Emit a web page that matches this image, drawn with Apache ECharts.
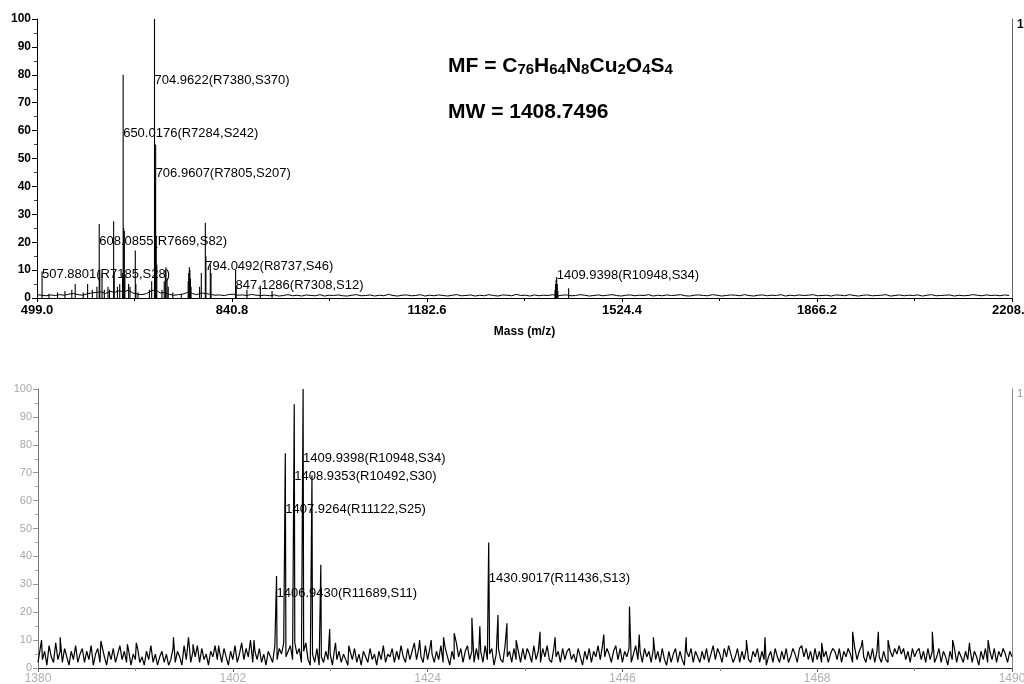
<!DOCTYPE html>
<html>
<head>
<meta charset="utf-8">
<script src="https://cdn.jsdelivr.net/npm/echarts@6/dist/echarts.min.js"></script>
<style>
  html, body { margin: 0; padding: 0; background: #fff; }
  #chart { width: 1024px; height: 684px; }
</style>
</head>
<body>
<div id="chart"></div>
<script>
// ---------- Full-range spectrum (m/z 499.0 - 2208.0) ----------
const topMzMin = 499.0;
const topMzMax = 2208.0;
const topTickStep = 341.8;
const topTickLabels = ['499.0', '840.8', '1182.6', '1524.4', '1866.2', '2208.0'];
const topYTicks = [0, 10, 20, 30, 40, 50, 60, 70, 80, 90, 100];

// baseline trace, one reading every 8 m/z starting at 499
const topNoiseStep = 8;
const topNoise = [
  1.2, 1.0, 0.8, 1.1, 0.9, 1.2, 1.0, 1.4, 1.6, 1.2, 1.0, 1.5, 1.8, 2.0, 2.2, 1.6, 2.4, 2.0, 2.6, 2.2,
  2.8, 1.8, 1.4, 1.2, 1.6, 2.5, 3.0, 1.8, 2.0, 1.3, 1.0, 1.2, 1.4, 2.0, 1.6, 1.2, 1.8, 1.6, 1.3, 1.0,
  1.1, 0.9, 1.2, 1.4, 1.0, 1.1, 0.9, 1.3, 1.0, 0.9,
  1.0, 0.8, 1.1, 0.7, 0.9, 1.2, 0.8, 1.0, 0.7, 1.1, 0.9, 0.8, 1.2, 0.7, 1.0, 0.9, 1.1, 0.8, 0.7, 1.0,
  1.2, 0.8, 0.9, 1.1, 0.7, 1.0, 0.8, 1.3, 0.9, 0.7, 1.0, 1.1, 0.8, 0.9, 1.2, 0.7, 1.0, 0.8, 1.1, 0.9,
  0.7, 1.0, 1.2, 0.8, 0.9, 1.1, 0.7, 1.0, 0.8, 1.2, 0.9, 0.7, 1.1, 1.0, 0.8, 1.3, 0.9, 1.0, 0.7, 1.1,
  0.8, 1.0, 0.9, 1.2, 0.7, 1.0, 1.1, 0.8, 0.9, 1.2, 1.0, 0.7, 0.9, 1.1, 0.8, 1.0, 1.2, 0.9, 0.7, 1.0,
  1.1, 0.8, 1.0, 0.9, 1.2, 0.7, 1.0, 0.8, 1.1, 0.9, 1.0, 1.2, 0.8, 0.7, 1.0, 1.1, 0.9, 0.8, 1.2, 1.0,
  0.7, 0.9, 1.1, 1.0, 0.8, 1.2, 0.9, 0.7, 1.0, 1.1, 0.8, 1.0, 0.9, 1.2, 0.7, 1.0, 0.8, 1.1, 0.9, 1.0,
  1.2, 0.8, 0.9, 1.0, 0.7, 1.1, 1.0, 0.8, 1.2, 0.9, 0.7, 1.0, 1.1, 0.8, 0.9, 1.0, 1.2, 0.7, 0.9, 1.1,
  0.8, 1.0, 0.9, 1.1, 0.7, 1.0, 1.2, 0.8, 0.9, 1.0, 1.1, 0.7, 1.0, 0.8, 0.9, 1.2, 1.0, 0.8, 1.1, 0.9,
  1.0, 0.8, 1.1, 0.9
];

// peak sticks: m/z and relative intensity (%)
const topPeakMz = [
  507.88, 520.0, 535.0, 548.0, 560.0, 566.0, 580.0, 587.7, 596.0, 604.0,
  608.09, 609.09, 613.0, 617.0, 623.4, 626.0, 633.3, 634.3, 640.0, 644.0,
  649.0, 650.02, 651.02, 652.02, 653.02, 659.6, 662.0, 671.3, 672.3, 676.0,
  696.0, 700.0, 704.96, 705.96, 706.96, 707.96, 708.96, 718.0, 722.0, 724.0,
  725.0, 727.0, 729.0, 737.0, 752.0, 764.0, 765.0, 766.0, 767.0, 768.0,
  769.0, 784.0, 787.0, 794.05, 795.05, 802.8, 804.0, 847.13, 848.13, 867.0,
  890.4, 911.0, 1406.94, 1407.93, 1408.94, 1409.94, 1410.94, 1411.94, 1430.90
];
const topPeakInt = [
  9.5, 1.5, 2.0, 2.5, 3.0, 5.0, 2.0, 5.0, 3.0, 4.0,
  26.5, 10.0, 9.0, 3.0, 4.0, 3.0, 27.5, 9.0, 4.0, 5.0,
  9.0, 80.0, 25.0, 24.0, 8.0, 5.0, 4.0, 17.0, 5.0, 2.0,
  3.0, 6.0, 100.0, 45.0, 55.0, 22.0, 12.0, 3.0, 6.0, 10.0,
  11.0, 7.0, 4.0, 2.0, 1.5, 6.0, 9.0, 11.0, 10.0, 7.0,
  4.0, 4.0, 9.0, 27.0, 15.0, 12.0, 9.0, 10.0, 4.0, 3.0,
  4.5, 2.5, 3.0, 5.0, 6.5, 7.5, 5.0, 2.5, 3.5
];

// peak annotations: m/z, text, level (%) at which the text sits
const topLabelMz = [704.9622, 650.0176, 706.9607, 608.0855, 507.8801, 794.0492, 847.1286, 1409.9398];
const topLabelText = [
  '704.9622(R7380,S370)', '650.0176(R7284,S242)', '706.9607(R7805,S207)', '608.0855(R7669,S82)',
  '507.8801(R7185,S28)', '794.0492(R8737,S46)', '847.1286(R7308,S12)', '1409.9398(R10948,S34)'
];
const topLabelLevel = [78, 59, 44.6, 20.3, 8.5, 11.4, 4.6, 8.1];

// ---------- Expanded view (m/z 1380 - 1490) ----------
const botMzMin = 1380;
const botMzMax = 1490;
const botTickStep = 22;
const botTickLabels = ['1380', '1402', '1424', '1446', '1468', '1490'];

// baseline trace, one reading every 0.25 m/z starting at 1380
const botNoiseStep = 0.25;
const botNoise = [
  2, 7, 3, 6, 1, 8, 4, 2, 9, 3, 6, 2, 7, 4, 1, 6, 3, 8, 2, 5,
  7, 2, 6, 3, 8, 1, 5, 7, 2, 10, 4, 1, 6, 3, 7, 2, 5, 8, 3, 6,
  2, 6, 1, 5, 3, 7, 2, 4, 1, 6, 3, 8, 2, 5, 1, 4, 6, 2, 5, 1,
  3, 7, 2, 6, 4, 1, 8, 3, 11, 2, 6, 4, 8, 2, 7, 3, 5, 1, 6, 4,
  8, 3, 6, 2, 7, 4, 1, 6, 3, 8, 2, 5, 9, 3, 7, 4, 10, 2, 6, 3,
  7, 2, 5, 1, 6, 4, 2, 8, 3, 7, 5, 9, 4, 6, 8, 3, 9, 5, 7, 2,
  6, 9, 3, 1, 5, 2, 7, 1, 4, 2, 6, 3, 5, 1, 7, 3, 6, 2, 5, 3,
  1, 6, 3, 7, 2, 5, 1, 6, 4, 2, 7, 3, 5, 1, 6, 3, 8, 2, 5, 4,
  7, 2, 6, 3, 8, 4, 2, 7, 3, 6, 9, 3, 7, 4, 2, 8, 3, 7, 5, 2,
  6, 3, 8, 2, 7, 4, 1, 6, 3, 9, 4, 7, 2, 6, 8, 3, 6, 2, 7, 3,
  6, 2, 8, 3, 5, 7, 1, 5, 7, 3, 2, 8, 4, 6, 2, 7, 3, 6, 2, 7,
  3, 7, 5, 2, 8, 3, 6, 2, 7, 4, 8, 3, 2, 7, 4, 6, 2, 7, 3, 6,
  7, 3, 5, 2, 7, 4, 1, 6, 3, 7, 2, 6, 4, 8, 3, 8, 4, 7, 5, 2,
  6, 8, 3, 7, 2, 6, 4, 7, 2, 5, 8, 3, 6, 2, 7, 4, 6, 2, 7, 3,
  6, 2, 7, 3, 1, 6, 2, 5, 7, 2, 6, 3, 1, 6, 4, 7, 2, 6, 4, 2,
  6, 3, 7, 2, 5, 8, 3, 7, 5, 2, 7, 4, 8, 5, 2, 4, 7, 2, 6, 3,
  7, 3, 2, 6, 4, 7, 2, 6, 3, 1, 4, 6, 2, 7, 4, 2, 6, 3, 7, 2,
  4, 7, 5, 2, 7, 8, 4, 7, 3, 6, 2, 7, 3, 6, 2, 4, 6, 2, 5, 7,
  6, 3, 7, 2, 6, 4, 7, 5, 2, 7, 3, 6, 8, 4, 2, 6, 3, 7, 2, 6,
  4, 2, 6, 3, 2, 6, 4, 7, 5, 8, 5, 7, 3, 6, 2, 7, 4, 6, 7, 3,
  6, 2, 7, 3, 6, 2, 4, 7, 2, 6, 4, 1, 6, 3, 7, 2, 6, 4, 2, 6,
  3, 7, 2, 6, 4, 1, 6, 3, 7, 2, 6, 3, 7, 2, 6, 4, 7, 5, 2, 6,
  4
];

// spikes rising out of the baseline: m/z and relative intensity (%)
const botPeakMz = [
  1380.4, 1382.5, 1387.1, 1390.1, 1391.1, 1395.3, 1397.5, 1400.4, 1404.4,
  1406.94, 1407.93, 1408.94, 1409.94, 1410.94, 1411.94, 1412.94,
  1413.6, 1415.1, 1423.1, 1424.4, 1425.8, 1427.0, 1429.0, 1429.9, 1430.90,
  1431.95, 1432.96, 1434.0, 1436.7, 1438.4, 1443.9, 1446.8, 1447.9, 1449.5,
  1453.2, 1460.0, 1462.1, 1468.5, 1472.0, 1473.1, 1474.9, 1476.0, 1481.0,
  1483.3, 1485.2, 1487.3
];
const botPeakInt = [
  10, 11, 9.7, 8.5, 9, 11, 8.5, 8, 10,
  33, 77, 94.5, 100, 69, 37, 14,
  9, 8, 10, 10, 11, 12.5, 18, 15, 45,
  19, 16, 10, 13, 11, 12, 22, 12, 11,
  11, 10, 11, 9, 13, 10, 13, 10, 13,
  10, 9, 10
];

const botLabelMz = [1409.9398, 1408.9353, 1407.9264, 1406.9430, 1430.9017];
const botLabelText = [
  '1409.9398(R10948,S34)', '1408.9353(R10492,S30)', '1407.9264(R11122,S25)',
  '1406.9430(R11689,S11)', '1430.9017(R11436,S13)'
];
const botLabelLevel = [75.2, 68.7, 56.9, 26.8, 32.2];

// ---------- build series data (x values are offsets from each axis minimum) ----------
const FONT = '"Liberation Sans", Arial, Helvetica, sans-serif';

const topNoiseData = topNoise.map((v, i) => [i * topNoiseStep, v]);
const topStickData = topPeakMz.map((m, i) => [m - topMzMin, topPeakInt[i]]);
const topLabelData = topLabelMz.map((m, i) => [m - topMzMin, topLabelLevel[i], i]);

const botTrace = botNoise.map((v, i) => [i * botNoiseStep, v])
  .concat(botPeakMz.map((m, i) => [m - botMzMin, botPeakInt[i]]))
  .sort((a, b) => a[0] - b[0]);
const botLabelData = botLabelMz.map((m, i) => [m - botMzMin, botLabelLevel[i], i]);

function stickItem(params, api) {
  const base = api.coord([api.value(0), 0]);
  const tip = api.coord([api.value(0), api.value(1)]);
  return {
    type: 'line',
    shape: { x1: base[0], y1: base[1], x2: tip[0], y2: tip[1] },
    style: { stroke: '#000', lineWidth: 1.1 }
  };
}
function labelItem(texts) {
  return function (params, api) {
    const p = api.coord([api.value(0), api.value(1)]);
    return {
      type: 'text',
      x: p[0], y: p[1],
      style: {
        text: texts[api.value(2)],
        fill: '#000',
        fontSize: 13,
        fontFamily: FONT,
        align: 'left',
        verticalAlign: 'middle'
      }
    };
  };
}

const chart = echarts.init(document.getElementById('chart'), null, { renderer: 'canvas' });

const option = {
  animation: false,
  backgroundColor: '#fff',
  grid: [
    { left: 37, right: 12, top: 19, height: 279, outerBoundsMode: 'none', containLabel: false },
    { left: 38, right: 12, top: 389, height: 279, outerBoundsMode: 'none', containLabel: false }
  ],
  xAxis: [
    {
      gridIndex: 0, type: 'value',
      min: 0, max: topMzMax - topMzMin, interval: topTickStep,
      axisLine: { lineStyle: { color: '#000', width: 1 } },
      axisTick: { length: 4, lineStyle: { color: '#000' } },
      minorTick: { show: true, splitNumber: 2, length: 3, lineStyle: { color: '#000' } },
      splitLine: { show: false },
      axisLabel: {
        margin: 6, color: '#000', fontSize: 13, fontWeight: 'bold', fontFamily: FONT,
        formatter: v => topTickLabels[Math.round(v / topTickStep)]
      },
      name: 'Mass (m/z)', nameLocation: 'middle', nameGap: 28,
      nameTextStyle: { color: '#000', fontSize: 12, fontWeight: 'bold', fontFamily: FONT }
    },
    {
      gridIndex: 1, type: 'value',
      min: 0, max: botMzMax - botMzMin, interval: botTickStep,
      axisLine: { lineStyle: { color: '#222', width: 1 } },
      axisTick: { length: 4, lineStyle: { color: '#666' } },
      minorTick: { show: true, splitNumber: 2, length: 3, lineStyle: { color: '#888' } },
      splitLine: { show: false },
      axisLabel: {
        margin: 5, color: '#b0b0b0', fontSize: 12, fontFamily: FONT,
        formatter: v => botTickLabels[Math.round(v / botTickStep)]
      }
    }
  ],
  yAxis: [
    {
      gridIndex: 0, type: 'value', min: 0, max: 100, interval: 10,
      axisLine: { show: true, lineStyle: { color: '#000' } },
      axisTick: { show: true, length: 5, lineStyle: { color: '#000' } },
      minorTick: { show: true, splitNumber: 2, length: 3, lineStyle: { color: '#444' } },
      splitLine: { show: false },
      axisLabel: {
        margin: 6, color: '#000', fontSize: 12, fontWeight: 'bold', fontFamily: FONT,
        formatter: v => (topYTicks.indexOf(v) >= 0 ? String(v) : '')
      }
    },
    {
      gridIndex: 0, type: 'value', position: 'right', min: 0, max: 100,
      axisLine: { show: true, lineStyle: { color: '#666' } },
      axisTick: { show: false }, axisLabel: { show: false }, splitLine: { show: false }
    },
    {
      gridIndex: 1, type: 'value', min: 0, max: 100, interval: 10,
      axisLine: { show: true, lineStyle: { color: '#777' } },
      axisTick: { show: true, length: 5, lineStyle: { color: '#999' } },
      minorTick: { show: true, splitNumber: 2, length: 3, lineStyle: { color: '#aaa' } },
      splitLine: { show: false },
      axisLabel: { margin: 6, color: '#a8a8a8', fontSize: 11, fontFamily: FONT }
    },
    {
      gridIndex: 1, type: 'value', position: 'right', min: 0, max: 100,
      axisLine: { show: true, lineStyle: { color: '#888' } },
      axisTick: { show: false }, axisLabel: { show: false }, splitLine: { show: false }
    }
  ],
  series: [
    {
      type: 'custom', name: 'top-labels', xAxisIndex: 0, yAxisIndex: 0,
      renderItem: labelItem(topLabelText), data: topLabelData, z: 1, silent: true
    },
    {
      type: 'line', name: 'top-baseline', xAxisIndex: 0, yAxisIndex: 0,
      data: topNoiseData, showSymbol: false, symbol: 'none',
      lineStyle: { color: '#000', width: 1 }, z: 2, silent: true
    },
    {
      type: 'custom', name: 'top-peaks', xAxisIndex: 0, yAxisIndex: 0,
      renderItem: stickItem, data: topStickData, z: 3, silent: true
    },
    {
      type: 'custom', name: 'bottom-labels', xAxisIndex: 1, yAxisIndex: 2,
      renderItem: labelItem(botLabelText), data: botLabelData, z: 1, silent: true
    },
    {
      type: 'line', name: 'bottom-trace', xAxisIndex: 1, yAxisIndex: 2,
      data: botTrace, showSymbol: false, symbol: 'none',
      lineStyle: { color: '#000', width: 1.2 }, z: 2, silent: true
    }
  ],
  graphic: [
    {
      type: 'text', left: 448, top: 50, silent: true,
      style: {
        text: '{b|MF = C}{s|76}{b|H}{s|64}{b|N}{s|8}{b|Cu}{s|2}{b|O}{s|4}{b|S}{s|4}',
        rich: {
          b: { fontSize: 21, fontWeight: 'bold', fontFamily: FONT, fill: '#000', lineHeight: 21, verticalAlign: 'top' },
          s: { fontSize: 15, fontWeight: 'bold', fontFamily: FONT, fill: '#000', lineHeight: 15, padding: [12, 0, 0, 0], verticalAlign: 'bottom' }
        }
      }
    },
    {
      type: 'text', left: 448, top: 102, silent: true,
      style: { text: 'MW = 1408.7496', fontSize: 21, fontWeight: 'bold', fontFamily: FONT, fill: '#000' }
    },
    {
      type: 'text', left: 1017, top: 19, silent: true,
      style: { text: '1', fontSize: 12, fontWeight: 'bold', fontFamily: FONT, fill: '#000' }
    },
    {
      type: 'text', left: 1017, top: 388, silent: true,
      style: { text: '1', fontSize: 11, fontFamily: FONT, fill: '#999' }
    }
  ]
};

chart.setOption(option);
</script>
</body>
</html>
